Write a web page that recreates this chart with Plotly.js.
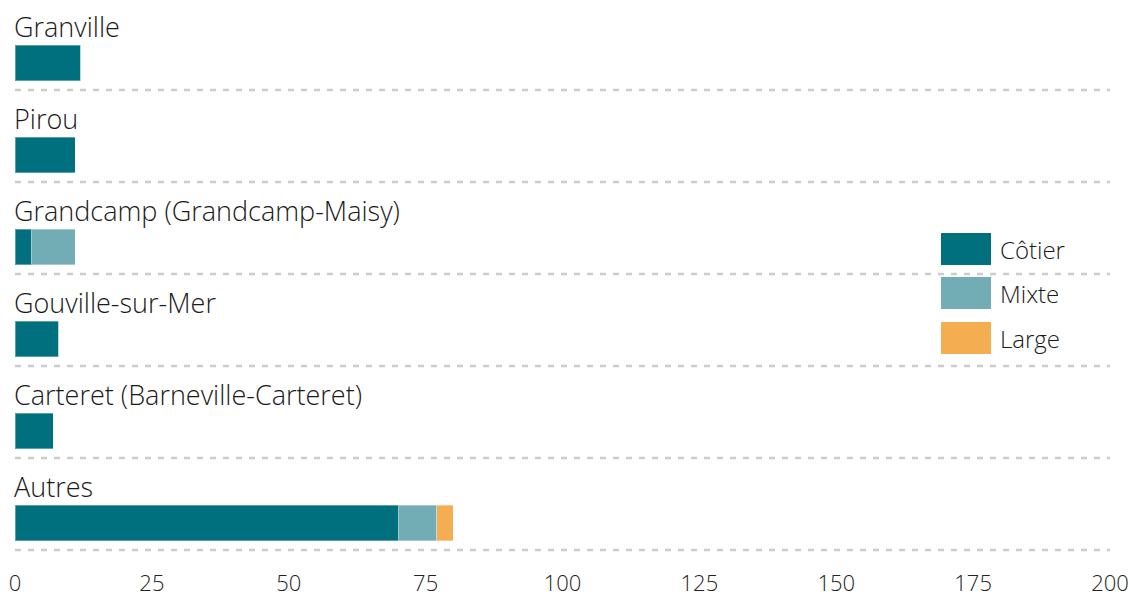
<!DOCTYPE html>
<html><head><meta charset="utf-8">
<script src="https://cdn.plot.ly/plotly-3.0.1.min.js"></script>
<style>html,body{margin:0;padding:0;background:#fff}#chart{width:1130px;height:601px}</style>
</head><body><div id="chart"></div>
<script>
const categories = ["Granville", "Pirou", "Grandcamp (Grandcamp-Maisy)", "Gouville-sur-Mer", "Carteret (Barneville-Carteret)", "Autres"];
const cotier = [12, 11, 3, 8, 7, 70];
const mixte = [0, 0, 8, 0, 0, 7];
const large = [0, 0, 0, 0, 0, 3];
const seriesNames = ["Côtier", "Mixte", "Large"];
const seriesColors = ["#00707f", "#72adb5", "#f5ad52"];
const xTicks = [0, 25, 50, 75, 100, 125, 150, 175, 200];

const FONT = "'Open Sans', sans-serif";
const idx = categories.map((_, i) => i);
const seriesVals = [cotier, mixte, large];
const traces = seriesVals.map((vals, k) => ({
  type: 'bar', orientation: 'h', y: idx, x: vals, name: seriesNames[k],
  width: 0.39, marker: {color: seriesColors[k], line: {color: 'rgba(255,255,255,0.35)', width: 1}},
  showlegend: false, hoverinfo: 'x+name'
}));

const PH = 568; // plot height in px
const shapes = [];
const annotations = [];
idx.forEach(i => {
  shapes.push({type: 'line', xref: 'paper', x0: 0, x1: 1, yref: 'y', y0: i + 0.2935, y1: i + 0.2935,
    line: {color: '#cccccc', width: 2.5, dash: '6px,7px'}});
  annotations.push({xref: 'paper', x: 0, xanchor: 'left', xshift: -3, yref: 'y', y: i - 0.40, yanchor: 'middle',
    text: categories[i], showarrow: false, font: {family: FONT, size: 27, weight: 300, color: '#1a1a1a'}});
});
// legend drawn as boxes + labels
const legY = [249, 293, 338];
seriesNames.forEach((n, k) => {
  shapes.push({type: 'rect', xref: 'paper', yref: 'paper', x0: (941 - 15) / 1095, x1: (991 - 15) / 1095,
    y0: 1 - (legY[k] + 16) / PH, y1: 1 - (legY[k] - 16) / PH, fillcolor: seriesColors[k], line: {width: 0}});
  annotations.push({xref: 'paper', yref: 'paper', x: (998 - 15) / 1095, xanchor: 'left',
    y: 1 - legY[k] / PH, yanchor: 'middle', text: n, showarrow: false,
    font: {family: FONT, size: 24, weight: 300, color: '#1a1a1a'}});
});

const layout = {
  width: 1130, height: 601,
  margin: {l: 15, r: 20, t: 0, b: 601 - PH},
  paper_bgcolor: '#fff', plot_bgcolor: '#fff',
  barmode: 'stack', showlegend: false,
  font: {family: FONT, size: 22, color: '#222'},
  xaxis: {range: [0, 200], tickvals: xTicks, ticktext: xTicks.map(String), showgrid: false, zeroline: false,
    showline: false, ticks: '',
    tickfont: {family: FONT, size: 22, weight: 300, color: '#222'}, fixedrange: true},
  yaxis: {range: [(PH - 63) / 92, -63 / 92], showticklabels: false, showgrid: false, zeroline: false, showline: false, fixedrange: true},
  shapes: shapes, annotations: annotations
};
Plotly.newPlot('chart', traces, layout, {displayModeBar: false, staticPlot: true});
</script></body></html>
